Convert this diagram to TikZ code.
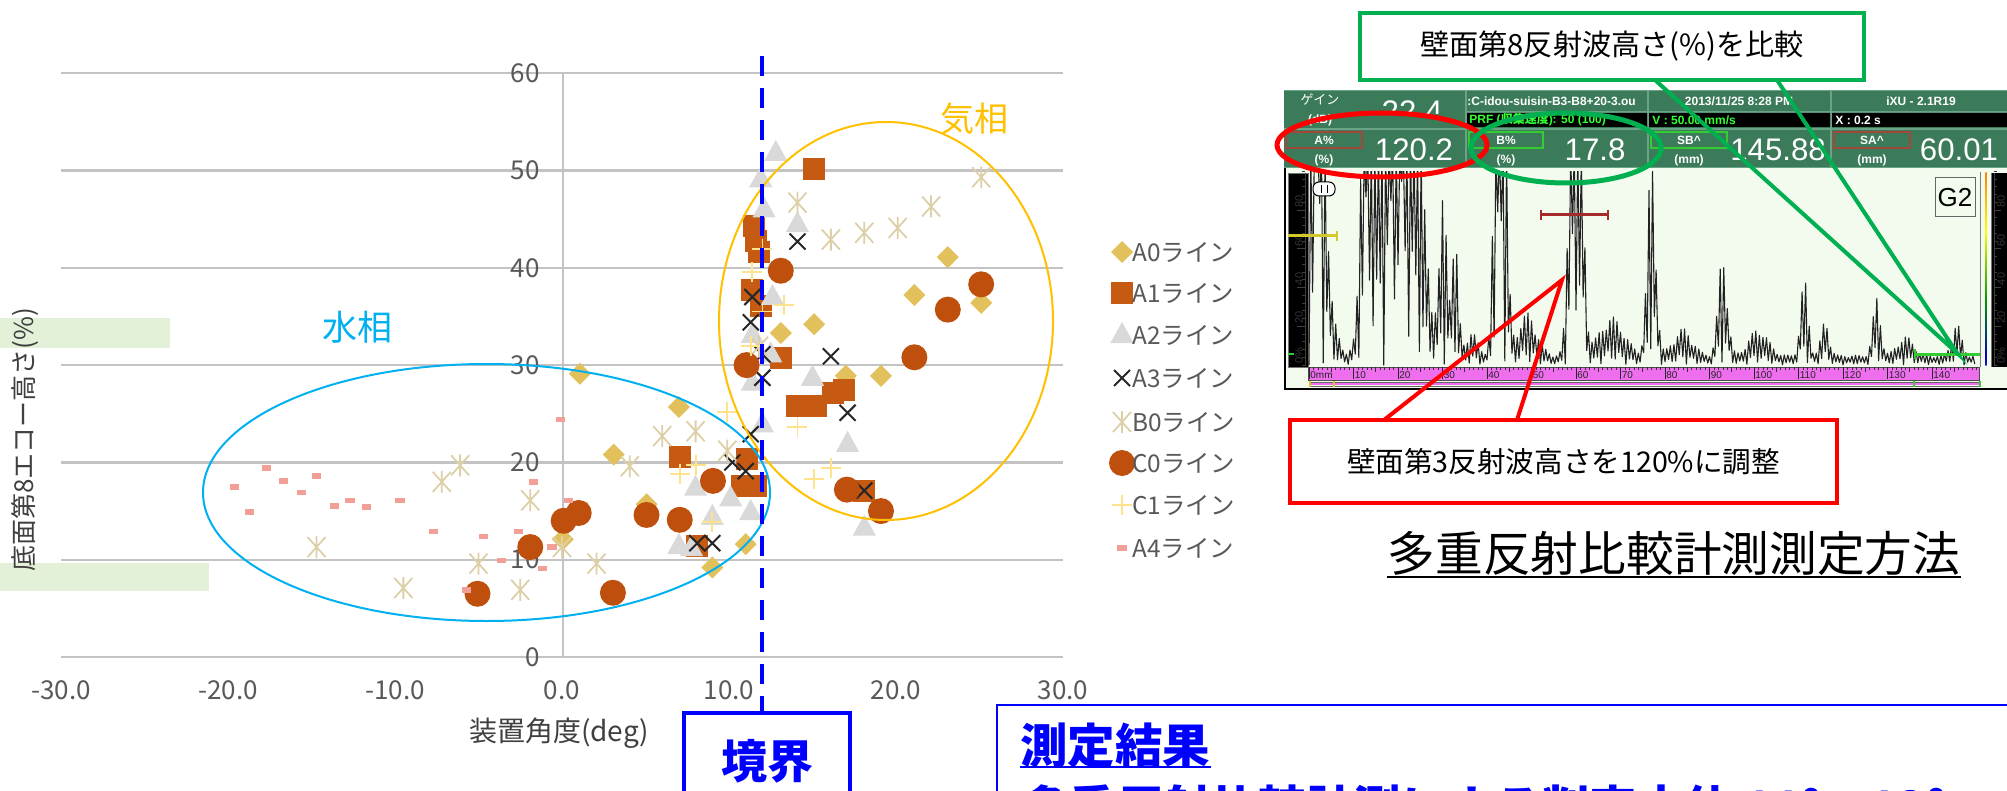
\documentclass[tikz,border=0pt]{standalone}
\usepackage{fontspec}
\setmainfont{Noto Sans CJK JP}
\newfontfamily\arl{Liberation Sans}
\usetikzlibrary{shapes.geometric}
\newcommand\fsz[1]{\fontsize{#1}{#1}\selectfont}
\definecolor{cA0}{HTML}{E2C15C}
\definecolor{cA1}{HTML}{C65A12}
\definecolor{cA2}{HTML}{D9D9D9}
\definecolor{cA3}{HTML}{262626}
\definecolor{cB0}{HTML}{DDD0A8}
\definecolor{cC0}{HTML}{BF4F0C}
\definecolor{cC1}{HTML}{FFE38C}
\definecolor{cA4}{HTML}{F2A097}
\definecolor{gridc}{HTML}{C3C3C3}
\definecolor{labc}{HTML}{595959}
\definecolor{titc}{HTML}{404040}
\definecolor{patch}{HTML}{E4F1D9}
\definecolor{wcyan}{HTML}{00B0F0}
\definecolor{gorange}{HTML}{FFC000}
\definecolor{cgreen}{HTML}{00B050}
\definecolor{hdr}{HTML}{3B7B5A}
\definecolor{hdrl}{HTML}{6AA386}
\definecolor{pbg}{HTML}{F3FBEE}
\definecolor{ybar}{HTML}{CDEE45}
\definecolor{ruler}{HTML}{EE6EEE}
\definecolor{lime}{HTML}{33FF33}
\definecolor{gatered}{HTML}{A52A2A}
\definecolor{gateyel}{HTML}{D4C92A}
\definecolor{gategrn}{HTML}{33CC33}
\definecolor{labred}{HTML}{A0483A}
\definecolor{wavec}{HTML}{222222}
\pgfdeclareverticalshading{rbar}{8bp}{color(0bp)=(white); color(12bp)=(cyan!50!white); color(27bp)=(blue!75!black); color(42bp)=(green!60!black); color(60bp)=(yellow); color(78bp)=(orange!85!red); color(100bp)=(red!50!black)}
\tikzset{
 mA0/.pic={\fill[cA0] (0,5.5pt)--(5.5pt,0)--(0,-5.5pt)--(-5.5pt,0)--cycle;},
 mA1/.pic={\fill[cA1] (-5.5pt,-5.5pt) rectangle (5.5pt,5.5pt);},
 mA2/.pic={\fill[cA2] (0,6.5pt)--(5.8pt,-4pt)--(-5.8pt,-4pt)--cycle;},
 mA3/.pic={\draw[cA3,line width=1pt] (-4pt,-4pt)--(4pt,4pt) (-4pt,4pt)--(4pt,-4pt);},
 mB0/.pic={\draw[cB0,line width=0.9pt] (-4.5pt,-5pt)--(4.5pt,5pt) (-4.5pt,5pt)--(4.5pt,-5pt) (0,-5.5pt)--(0,5.5pt);},
 mC0/.pic={\fill[cC0] (0,0) circle (6.5pt);},
 mC1/.pic={\draw[cC1,line width=0.9pt] (-5pt,0)--(5pt,0) (0,-5pt)--(0,5pt);},
 mA4/.pic={\fill[cA4] (-2.3pt,-1.4pt) rectangle (2.3pt,1.4pt);},
 gridln/.style={draw=gridc, line width=1.2pt},
 ticklab/.style={text=labc, inner sep=0pt, font=\fsz{13pt}},
 legtxt/.style={text=labc, inner sep=0pt, anchor=west, font=\fsz{12.2pt}},
 hdtxt/.style={text=white, inner sep=0pt, font=\arl\bfseries\fsz{6pt}},
 hdjp/.style={text=white, inner sep=0pt, font=\fsz{6.5pt}},
 bigval/.style={text=white, inner sep=0pt, font=\arl\fsz{15.6pt}},
 sclab/.style={text=black!80, inner sep=0pt, font=\arl\fsz{5.5pt}, rotate=90, anchor=west},
 rlab/.style={text=black!85, inner sep=0pt, font=\arl\fsz{5pt}, anchor=west},
}
\begin{document}
\begin{tikzpicture}[x=0.5pt,y=-0.5pt,
 declare function={
  gs(\x,\c,\w)=exp(-pow(min(abs(\x-\c)/\w,4),2));
  env(\x)=5+400*gs(\x,1.5,2.2)+10*gs(\x,6,1.5)+250*gs(\x,13,1.4)+320*gs(\x,20,5)+80*gs(\x,30.3,1.2)+60*gs(\x,32.8,1.0)+12*gs(\x,36.5,2)+320*gs(\x,43,1.4)+22*gs(\x,49,3)+300*gs(\x,60,1.6)+20*gs(\x,68,4)+105*gs(\x,77,1.3)+14*gs(\x,84,3)+55*gs(\x,93,1.4)+14*gs(\x,101,3)+40*gs(\x,111.3,1.2)+18*gs(\x,116,1.3)+31*gs(\x,127.6,1.2)+10*gs(\x,134,2.5)+17*gs(\x,145.5,1.5);
 }]
\useasboundingbox (0,0) rectangle (2007,791);
\fill[white] (0,0) rectangle (2007,791);

% ---------- chart ----------
\fill[patch] (0,318) rectangle (170,348);
\fill[patch] (0,563) rectangle (209,591);
\foreach \v in {0,10,20,30,40,50,60} {
  \draw[gridln] (61,{657-9.73*\v}) -- (1063,{657-9.73*\v});
  \node[ticklab, anchor=east] at (540,{657-9.73*\v}) {\v};
}
\draw[draw=gridc, line width=1pt] (563,73.2) -- (563,657);
\foreach \v/\t in {-30/-30.0,-20/-20.0,-10/-10.0,0/0.0,10/10.0,20/20.0,30/30.0}
  \node[ticklab] at ({562+16.7*\v},690) {\t};
\node[text=titc, inner sep=0pt, rotate=90, font=\fsz{13pt}] (ytitle) at (25,440) {底面第8エコー高さ(\%)};
\node[text=titc, inner sep=0pt, font=\fsz{14pt}] (xtitle) at (559,733) {装置角度(deg)};

\begin{scope}[shift={(562,657)}, x=8.35pt, y=4.865pt]
 \foreach \a/\b in {23.1/41.1,21.1/37.2,25.1/36.4,15.1/34.2,13.1/33.3,19.1/28.9,17.0/28.9,1.07/29.1,7.0/25.7,3.1/20.8,5.06/15.7,0.05/12.1,11.0/11.6,9.0/9.2}
   \pic at (\a,\b) {mA0};
 \foreach \a/\b in {15.1/50.2,11.5/44.3,11.6/42.8,11.8/41.6,11.4/37.7,11.9/36.1,13.1/30.7,16.9/27.4,16.2/27.1,14.1/25.8,15.2/25.8,7.05/20.6,11.1/20.4,10.8/17.6,11.6/17.6,8.1/11.4,18.1/17.1}
   \pic at (\a,\b) {mA1};
 \foreach \a/\b in {12.8/51.8,11.9/49.1,12.1/46.0,14.1/44.5,12.6/37.0,11.4/33.1,12.5/31.1,15.0/28.7,11.4/28.2,17.1/21.9,12.0/23.9,8.0/17.4,10.1/16.3,9.0/14.4,11.3/14.9,7.0/11.4,7.75/11.2,18.1/13.3}
   \pic at (\a,\b) {mA2};
 \foreach \a/\b in {14.1/42.7,11.4/37.0,11.3/34.4,12.0/31.1,12.0/28.7,16.1/30.9,17.1/25.1,11.3/22.9,10.2/20.0,11.0/19.1,18.1/17.1,8.1/11.7,9.0/11.7,6.95/14.1}
   \pic at (\a,\b) {mA3};
 \foreach \a/\b in {25.1/49.3,22.1/46.3,20.1/44.1,18.1/43.6,16.1/42.9,14.1/46.7,11.8/31.9,8.0/23.2,6.0/22.7,4.06/19.6,9.9/21.2,1.0/14.9,0.0/11.3,2.07/9.6,-6.1/19.7,-7.2/18.0,-1.9/16.1,-14.7/11.3,-5.0/9.6,-9.5/7.1,-2.5/6.9}
   \pic at (\a,\b) {mB0};
 \foreach \a/\b in {13.1/39.7,11.05/30.0,21.1/30.8,23.1/35.7,25.1/38.3,17.06/17.2,19.1/15.0,9.04/18.1,7.05/14.1,5.06/14.6,1.0/14.8,0.1/14.0,-1.9/11.3,-5.06/6.5,3.05/6.6}
   \pic at (\a,\b) {mC0};
 \foreach \a/\b in {12.0/41.9,11.4/39.6,12.0/35.5,13.3/36.2,11.3/32.0,9.9/25.2,14.1/23.6,16.1/19.4,15.1/18.3,8.0/19.7,7.05/18.8,9.0/13.9}
   \pic at (\a,\b) {mC1};
 \foreach \a/\b in {-0.1/24.4,-17.7/19.4,-19.6/17.5,-16.7/18.1,-14.7/18.6,-15.6/16.9,-18.7/14.9,-12.7/16.1,-13.6/15.5,-11.7/15.4,-9.7/16.1,-1.7/18.0,0.4/16.1,-7.7/12.9,-4.7/12.4,-2.6/12.9,-0.6/11.3,-3.6/9.9,-1.15/9.1,-5.7/6.9}
   \pic at (\a,\b) {mA4};
\end{scope}

\draw[wcyan, line width=1pt] (486.5,492.5) ellipse [x radius=141.75pt, y radius=64.25pt];
\draw[gorange, line width=1pt] (886,321) ellipse [x radius=83.5pt, y radius=99.5pt];
\node[text=wcyan, inner sep=0pt, font=\fsz{17.5pt}] (water) at (357,327) {水相};
\node[text=gorange, inner sep=0pt, font=\fsz{17pt}] (gas) at (974,119) {気相};

% legend
\pic at (1122,252) {mA0}; \node[legtxt] (l1) at (1132,252) {A0ライン};
\pic at (1122,293) {mA1}; \node[legtxt] (l2) at (1132,293) {A1ライン};
\pic at (1122,335) {mA2}; \node[legtxt] (l3) at (1132,335) {A2ライン};
\pic at (1122,378) {mA3}; \node[legtxt] (l4) at (1132,378) {A3ライン};
\pic at (1122,422) {mB0}; \node[legtxt] (l5) at (1132,422) {B0ライン};
\pic at (1122,463) {mC0}; \node[legtxt] (l6) at (1132,463) {C0ライン};
\pic at (1122,505) {mC1}; \node[legtxt] (l7) at (1132,505) {C1ライン};
\pic at (1122,548) {mA4}; \node[legtxt] (l8) at (1132,548) {A4ライン};

% boundary
\node[draw=blue, line width=1.75pt, minimum width=83pt, minimum height=48.5pt, inner sep=0pt, text=blue, font=\bfseries\fsz{23pt}] (kyo) at (767,761.5) {境界};
\coordinate (btop) at (762,56);
\draw[blue, line width=2pt, dash pattern=on 10pt off 6pt] (btop) -- (btop |- kyo.north);

% ---------- screenshot ----------
\fill[pbg] (1284,168) rectangle (2010,390);
\fill[hdr] (1284,90) rectangle (2010,168);
\draw[hdrl, line width=0.7pt] (1284,90.5) -- (2010,90.5) (1466,91)--(1466,167) (1648,91)--(1648,167) (1831,91)--(1831,167) (1284,129)--(2010,129) (1466,112)--(2010,112) (1284,167.5)--(2010,167.5);
\fill[black] (1467,113) rectangle (1647,127) (1649,113) rectangle (1830,127) (1832,113) rectangle (2010,127);
\draw[labred, line width=0.6pt] (1286,132) rectangle (1362,148);
\draw[gategrn, line width=0.6pt] (1469,132) rectangle (1543,148);
\draw[gategrn, line width=0.6pt] (1651,132) rectangle (1727,148);
\draw[labred, line width=0.6pt] (1834,132) rectangle (1910,148);
\node[hdjp] (gain) at (1320,99) {ゲイン};
\node[hdtxt] (db) at (1320,120) {(dB)};
\begin{scope}
 \clip (1366,92) rectangle (1465,114);
 \node[bigval] (g224) at (1412,112) {22.4};
\end{scope}
\begin{scope}
 \clip (1467,91) rectangle (1647,128);
 \node[hdtxt, anchor=west] (file) at (1467,101) {:C-idou-suisin-B3-B8+20-3.ou};
 \node[hdtxt, text=lime, anchor=west] (prf) at (1469,120) {PRF ({\rmfamily\bfseries 収集速度}): 50 (100)};
\end{scope}
\node[hdtxt] (date) at (1739,101) {2013/11/25 8:28 PM};
\node[hdtxt] (ver) at (1921,101) {iXU - 2.1R19};
\node[hdtxt, text=lime, anchor=west] (vel) at (1652,120) {V : 50.00 mm/s};
\node[hdtxt, anchor=west] (xs) at (1835,120) {X : 0.2 s};
\node[hdtxt] (la) at (1324,140) {A\%};
\node[hdtxt] (lap) at (1324,160) {(\%)};
\node[bigval] (va) at (1414,150) {120.2};
\node[hdtxt] (lb) at (1506,140) {B\%};
\node[hdtxt] (lbp) at (1506,160) {(\%)};
\node[bigval] (vb) at (1595,150) {17.8};
\node[hdtxt] (lsb) at (1689,140) {SB\textasciicircum};
\node[hdtxt] (lsbp) at (1689,160) {(mm)};
\node[bigval] (vsb) at (1778,150) {145.88};
\node[hdtxt] (lsa) at (1872,140) {SA\textasciicircum};
\node[hdtxt] (lsap) at (1872,160) {(mm)};
\node[bigval] (vsa) at (1959,150) {60.01};

% left scale
\fill[ybar] (1288,173) rectangle (1308,367);
\draw[black!55, line width=0.4pt] (1288,173) rectangle (1308,367);
\draw[black!75, line width=0.4pt] (1305,173) -- (1305,366);
\foreach \p in {0,4,...,100} \draw[black!75, line width=0.3pt] (1302,{365-1.9375*\p}) -- (1305,{365-1.9375*\p});
\foreach \p in {20,40,60,80} {
  \draw[black!75, line width=0.4pt] (1297,{365-1.9375*\p}) -- (1305,{365-1.9375*\p});
  \node[sclab] at (1299,{363-1.9375*\p}) {\p};
}
\node[sclab] at (1299,364) {0\%};
\draw[gategrn, line width=1pt] (1288,354) -- (1294,354);
% right scales
\shade[shading=rbar] (1982,173) rectangle (1990,365);
\fill[ybar] (1991,173) rectangle (2010,367);
\draw[black!55, line width=0.4pt] (1991,173) -- (1991,367);
\draw[black!75, line width=0.4pt] (1994,173) -- (1994,366);
\foreach \p in {0,4,...,100} \draw[black!75, line width=0.3pt] (1994,{365-1.9375*\p}) -- (1997,{365-1.9375*\p});
\foreach \p in {20,40,60,80} {
  \draw[black!75, line width=0.4pt] (1994,{365-1.9375*\p}) -- (2001,{365-1.9375*\p});
  \node[sclab] at (2001,{363-1.9375*\p}) {\p};
}
\node[sclab] at (2001,364) {0\%};

% waveform
\begin{scope}
 \clip (1308,172) rectangle (1980,366);
 \draw[wavec, line width=0.55pt, line join=round] (1309,365) foreach \k in {0,...,186} { -- ({1309+4.45*(0.8*\k+0.4)},{365-1.9375*min(110,env(0.8*\k+0.4)*(0.72+0.28*abs(sin(\k*37))))}) -- ({1309+4.45*(0.8*\k+0.8)},{365-1.9375*min(110,env(0.8*\k+0.8)*0.3*abs(sin(\k*53+20)))}) };
\end{scope}
\draw[gray, line width=0.4pt] (1980,172) -- (1980,367);

% ruler
\fill[ruler] (1308,367) rectangle (1979,380);
\draw[black!70, line width=0.3pt] (1308,367) rectangle (1979,380);
\foreach \m in {0,...,150} \draw[black!80, line width=0.3pt] ({1309+4.45*\m},367) -- ++(0,3);
\foreach \m in {5,15,...,145} \draw[black!80, line width=0.3pt] ({1309+4.45*\m},367) -- ++(0,5);
\foreach \m in {0,10,...,140} \draw[black!85, line width=0.4pt] ({1309+4.45*\m},367) -- ++(0,12);
\foreach \m in {10,20,...,140} \node[rlab] at ({1310+4.45*\m},375) {\m};
\node[rlab] (mm0) at (1310,375) {0mm};
\draw[ruler, line width=1.2pt] (1309,384) -- (1979,384);
\draw[black!60, line width=0.3pt] (1309,382) -- (1979,382) (1309,386) -- (1979,386);
\draw[gateyel, line width=1pt] (1310,381) -- (1310,387) (1334,381) -- (1334,387);
\draw[gategrn, line width=1pt] (1914,381) -- (1914,387) (1980,381) -- (1980,387);
\draw[black, line width=1.2pt] (1285,168) -- (1285,389) -- (2010,389);

% gates, G2, icon
\draw[gateyel, line width=1.5pt] (1288,236) -- (1337,236);
\draw[gateyel, line width=0.8pt] (1337,231) -- (1337,241);
\draw[gatered, line width=1.5pt] (1541,215) -- (1608,215);
\draw[gatered, line width=0.8pt] (1541,210) -- (1541,220) (1608,210) -- (1608,220);
\draw[gategrn, line width=1.5pt] (1915,354) -- (1980,354);
\draw[gategrn, line width=0.8pt] (1915,349) -- (1915,359);
\node[draw=black!60, fill=pbg, line width=0.5pt, minimum width=20pt, minimum height=19.5pt, inner sep=0pt, font=\arl\fsz{13pt}] (g2) at (1955,197.5) {G2};
\draw[black, fill=white, line width=0.5pt, rounded corners=3pt] (1313,182) rectangle (1335,196);
\draw[black, line width=0.5pt] (1321,185) -- (1321,193) (1327,185) -- (1327,193);

% ellipses on header
\draw[red, line width=2.5pt] (1382,145) ellipse [x radius=52.5pt, y radius=16pt];
\draw[cgreen, line width=2.5pt] (1566,148) ellipse [x radius=47.5pt, y radius=17.5pt];

% ---------- callouts ----------
\node[draw=cgreen, fill=white, line width=2pt, minimum width=252pt, minimum height=33.5pt, inner sep=0pt, font=\fsz{14.6pt}] (gbox) at (1612,46.5) {壁面第8反射波高さ(\%)を比較};
\coordinate (gw1) at (1655,80);
\coordinate (gw2) at (1777,80);
\coordinate (gtip) at (1957,353);
\draw[cgreen, line width=2pt, line join=miter] (gw1) -- (gtip) -- (gw2);

\node[draw=red, fill=white, line width=2pt, minimum width=273.5pt, minimum height=41.5pt, inner sep=0pt, font=\fsz{14.3pt}] (rbox) at (1563.5,461.5) {壁面第3反射波高さを120\%に調整};
\coordinate (rw1) at (1384,420);
\coordinate (rw2) at (1517,420);
\coordinate (rtip) at (1562,280);
\draw[red, line width=2pt, line join=miter] (rw1) -- (rtip) -- (rw2);

% title
\node[inner sep=0pt, font=\fsz{23.85pt}] (title) at (1674,553) {多重反射比較計測測定方法};
\coordinate (tul) at (0,577);
\draw[black, line width=1.3pt] (title.west |- tul) -- (title.east |- tul);

% result box
\draw[blue, line width=1pt] (997,800) -- (997,705) -- (2010,705);
\node[anchor=north west, inner sep=0pt, text=blue, font=\bfseries\fsz{23.75pt}] (res1) at (1020,722) {測定結果};
\coordinate (rul) at (0,767);
\draw[blue, line width=1.2pt] (res1.west |- rul) -- (res1.east |- rul);
\node[anchor=north west, inner sep=0pt, text=blue, font=\bfseries\fsz{23.75pt}] (res2) at (1021,784) {多重反射比較計測による判定水位 11°～12°};
\end{tikzpicture}
\end{document}
